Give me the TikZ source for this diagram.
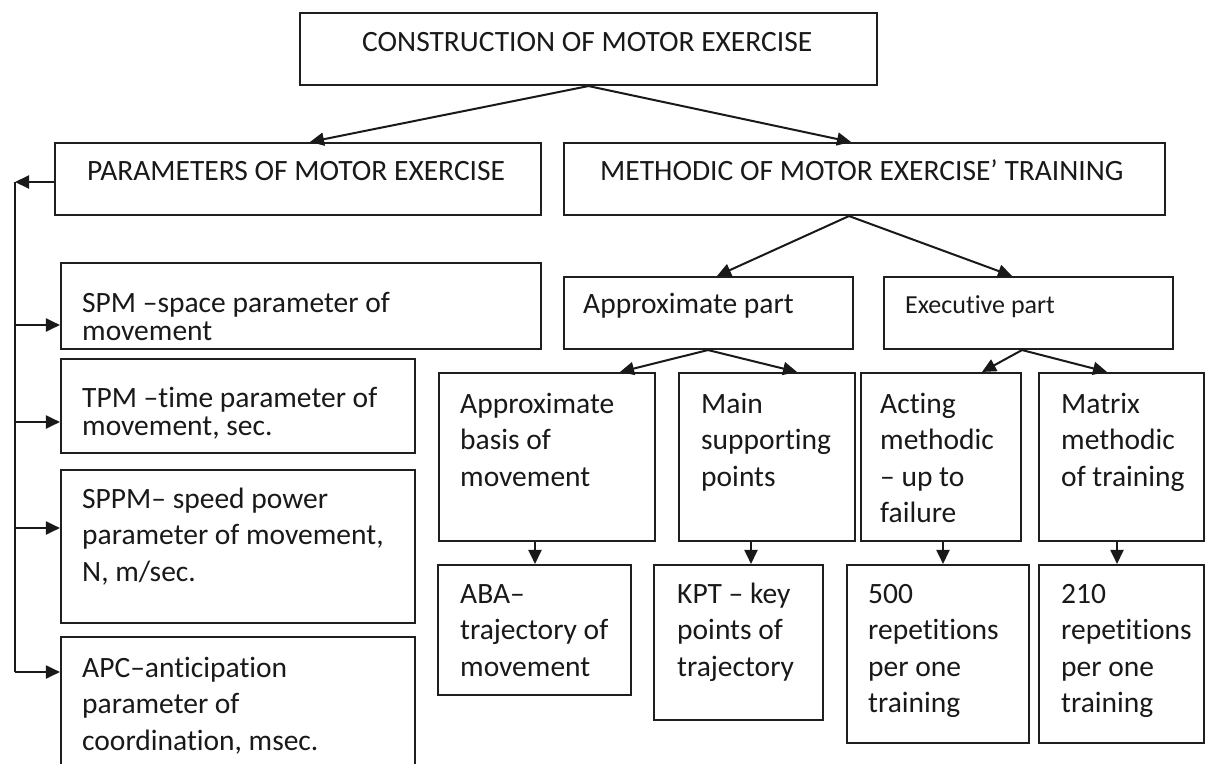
\documentclass[tikz,border=0pt]{standalone}
\usepackage{fontspec}
\setmainfont{Carlito}[Ligatures={NoCommon}]
\usetikzlibrary{arrows.meta,fit}
\newcommand{\fl}{\rule{0pt}{25pt}}
\begin{document}
\begin{tikzpicture}[x=1pt,y=-1pt,
  box/.style={draw=black!88, line width=2.1pt, rectangle, inner sep=0pt},
  txt/.style={anchor=north west, inner sep=0pt, align=left, text=black!90,
              font=\fontsize{29.5}{36.5}\selectfont},
  tight/.style={font=\fontsize{29.5}{28}\selectfont},
  small/.style={font=\fontsize{26}{30}\selectfont},
  arr/.style={line width=2pt, draw=black!90, -{Triangle[length=14pt,width=13pt]}},
  ln/.style={line width=2pt, draw=black!90}]
\clip (0,0) rectangle (1206,763);
\fill[white] (0,0) rectangle (1206,763);

% boxes
\node[box, fit={(300,13) (877,85)}] (top) {};
\node[box, fit={(55,143) (541,215)}] (params) {};
\node[box, fit={(564,143) (1165,215)}] (meth) {};
\node[box, fit={(61,263) (541,349)}] (spm) {};
\node[box, fit={(61,359) (415,453)}] (tpm) {};
\node[box, fit={(61,470) (415,623)}] (sppm) {};
\node[box, fit={(61,637) (415,800)}] (apc) {};
\node[box, fit={(564,277) (853,349)}] (apart) {};
\node[box, fit={(884,277) (1173,349)}] (epart) {};
\node[box, fit={(439,373) (655,541)}] (basis) {};
\node[box, fit={(679,373) (855,541)}] (main) {};
\node[box, fit={(861,373) (1021,541)}] (acting) {};
\node[box, fit={(1039,373) (1204,541)}] (matrix) {};
\node[box, fit={(438,565) (631,695)}] (aba) {};
\node[box, fit={(654,565) (823,720)}] (kpt) {};
\node[box, fit={(847,565) (1029,743)}] (r500) {};
\node[box, fit={(1039,565) (1204,743)}] (r210) {};

% texts (node placed 25pt above first baseline)
\node[txt] (top-t) at (362,26) {\fl CONSTRUCTION OF MOTOR EXERCISE};
\node[txt] (params-t) at (87,155) {\fl PARAMETERS OF MOTOR EXERCISE};
\node[txt] (meth-t) at (600,155) {\fl METHODIC OF MOTOR EXERCISE’ TRAINING};
\node[txt,tight] (spm-t) at (82,287) {\fl SPM –space parameter of\\movement};
\node[txt,tight] (tpm-t) at (82,382) {\fl TPM –time parameter of\\movement, sec.};
\node[txt] (sppm-t) at (82,483) {\fl SPPM– speed power\\parameter of movement,\\N, m/sec.};
\node[txt] (apc-t) at (82,652) {\fl APC–anticipation\\parameter of\\coordination, msec.};
\node[txt] (apart-t) at (583,288) {\fl Approximate part};
\node[txt,small] (epart-t) at (905,288) {\fl Executive part};
\node[txt] (basis-t) at (460,388) {\fl Approximate\\basis of\\movement};
\node[txt] (main-t) at (701,388) {\fl Main\\supporting\\points};
\node[txt] (acting-t) at (880,388) {\fl Acting\\methodic\\– up to\\failure};
\node[txt] (matrix-t) at (1061,388) {\fl Matrix\\methodic\\of training};
\node[txt] (aba-t) at (460,578) {\fl ABA–\\trajectory of\\movement};
\node[txt] (kpt-t) at (677,578) {\fl KPT – key\\points of\\trajectory};
\node[txt] (r500-t) at (868,578) {\fl 500\\repetitions\\per one\\training};
\node[txt] (r210-t) at (1061,578) {\fl 210\\repetitions\\per one\\training};

% connectors
\draw[arr] (top.south) -- (params.north -| 310,0);
\draw[arr] (top.south) -- (meth.north -| 851,0);
\draw[arr] (meth.south -| 849,0) -- (apart.north -| 717,0);
\draw[arr] (meth.south -| 849,0) -- (epart.north -| 1012,0);
\draw[arr] (apart.south -| 708,0) -- (basis.north -| 620,0);
\draw[arr] (apart.south -| 708,0) -- (main.north -| 797,0);
\draw[arr] (epart.south -| 1022,0) -- (acting.north -| 982,0);
\draw[arr] (epart.south -| 1022,0) -- (matrix.north -| 1107,0);
\draw[arr] (basis.south -| 535,0) -- (aba.north -| 535,0);
\draw[arr] (main.south -| 751,0) -- (kpt.north -| 751,0);
\draw[arr] (acting.south -| 943,0) -- (r500.north -| 943,0);
\draw[arr] (matrix.south -| 1117,0) -- (r210.north -| 1117,0);

% feedback line on the left
\coordinate (fb) at (15,182);
\coordinate (fbb) at (15,672);
\draw[arr] (params.west |- 0,182) -- (fb);
\draw[ln] (fb) -- (fbb);
\draw[arr] (fb |- 0,325) -- (spm.west |- 0,325);
\draw[arr] (fb |- 0,422) -- (tpm.west |- 0,422);
\draw[arr] (fb |- 0,528) -- (sppm.west |- 0,528);
\draw[arr] (fbb) -- (apc.west |- fbb);
\end{tikzpicture}
\end{document}
